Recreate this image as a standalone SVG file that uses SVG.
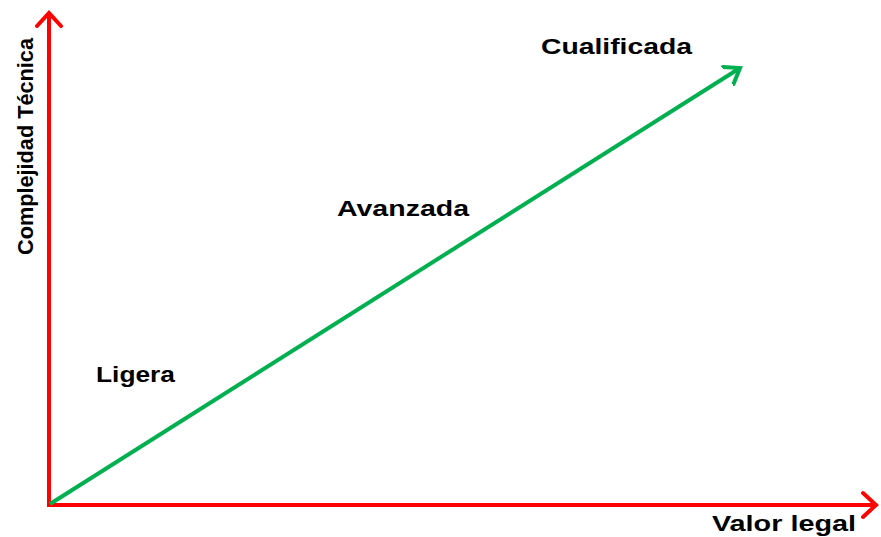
<svg xmlns="http://www.w3.org/2000/svg" width="881" height="537" viewBox="0 0 881 537">
<style>
.lbl{font-family:"Liberation Sans",Arial,sans-serif;font-weight:bold;font-size:22.5px;fill:#000}
.axis{stroke:#ff0000;stroke-width:4;fill:none}
.trend{stroke:#00b050;stroke-width:4;fill:none}
</style>
<defs>
<marker id="redHead" markerUnits="userSpaceOnUse" markerWidth="30" markerHeight="30" viewBox="-15 -15 30 30" refX="0" refY="0" orient="auto">
<path d="M-13,-12 L0,0 L-13,12" fill="none" stroke="#ff0000" stroke-width="4" stroke-linecap="round" stroke-linejoin="miter"/>
</marker>
<marker id="greenHead" markerUnits="userSpaceOnUse" markerWidth="30" markerHeight="30" viewBox="-15 -15 30 30" refX="0" refY="0" orient="auto">
<path d="M-14,-10 L0,0 L-14,10" fill="none" stroke="#00b050" stroke-width="4" stroke-linecap="round" stroke-linejoin="miter"/>
</marker>
</defs>
<rect width="881" height="537" fill="#fff"/>
<g id="connectors">
<line class="axis" x1="49" y1="507" x2="49" y2="13" marker-end="url(#redHead)"/>
<line class="axis" x1="47" y1="505" x2="876" y2="505" marker-end="url(#redHead)"/>
<line class="trend" x1="50" y1="504" x2="740" y2="68" marker-end="url(#greenHead)"/>
</g>
<g id="y-label"><text class="lbl" transform="translate(33,255) rotate(-90)" textLength="217" lengthAdjust="spacingAndGlyphs">Complejidad Técnica</text></g>
<g id="x-label"><text class="lbl" x="712" y="531" textLength="144" lengthAdjust="spacingAndGlyphs">Valor legal</text></g>
<g id="ligera"><text class="lbl" x="96" y="382" textLength="79" lengthAdjust="spacingAndGlyphs">Ligera</text></g>
<g id="avanzada"><text class="lbl" x="337" y="216" textLength="132" lengthAdjust="spacingAndGlyphs">Avanzada</text></g>
<g id="cualificada"><text class="lbl" x="541" y="54" textLength="151" lengthAdjust="spacingAndGlyphs">Cualificada</text></g>
</svg>
